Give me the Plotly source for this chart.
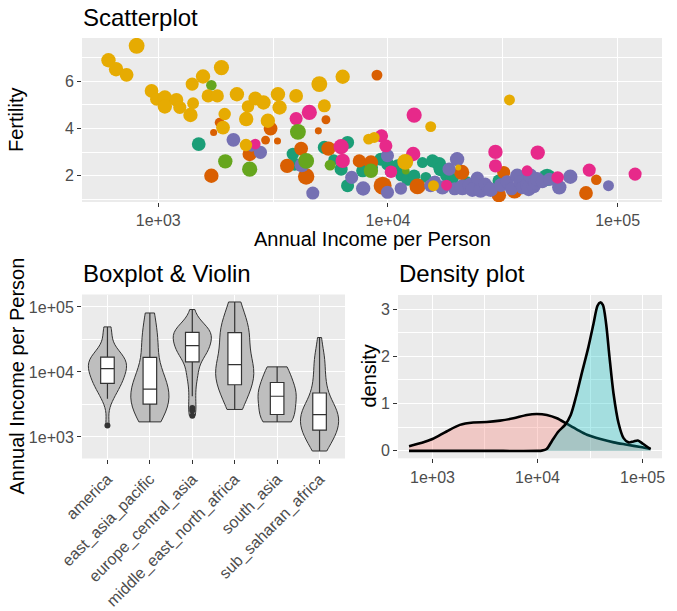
import numpy as np
import plotly.graph_objects as go

FONT = "Liberation Sans"
W, H = 677, 611

regions = ["america", "east_asia_pacific", "europe_central_asia",
           "middle_east_north_africa", "south_asia", "sub_saharan_africa"]
region_colors = ["#1B9E77", "#D95F02", "#7570B3", "#E7298A", "#66A61E", "#E6AB02"]

# ---- data (income per person, fertility, population in millions)
america_income = [1500, 3855, 3920, 5284, 6670, 5808, 6253, 6670, 7760, 8500, 9310, 9980, 9980,
                  11020, 11380, 12200, 13000, 14130, 14620, 15620, 16680, 16980, 17820, 19000,
                  22000, 30350, 43400, 49300]
america_fertility = [3.34, 2.92, 2.49, 3.20, 3.41, 2.68, 2.28, 1.58, 2.21, 2.35, 2.70, 2.14, 2.49,
                     2.42, 2.00, 1.85, 2.00, 2.56, 1.93, 2.63, 2.49, 2.28, 2.00, 1.85,
                     1.70, 1.79, 1.55, 1.93]
america_pop = [5, 1.5, 2.6, 2.6, 2.6, 0.5, 2.6, 2.6, 2.6, 1.5, 2.6, 0.1, 2.6,
               2.6, 0.5, 2.6, 1.5, 0.5, 0.5, 2.6, 9, 9, 0.5, 2.6,
               2.6, 1.5, 0.1, 320]

eap_income = [1849, 1742, 1703, 3083, 2932, 3304, 2500, 5370, 4977, 8955, 4188, 3641, 4404,
              5508, 7500, 8430, 9480, 13440, 20940, 31900, 30400, 35560, 80700, 72800]
eap_fertility = [4.25, 3.83, 2.00, 4.00, 3.51, 3.47, 2.92, 4.37, 3.90, 6.26, 3.15, 2.42, 1.97,
                 3.15, 2.63, 2.56, 1.58, 1.55, 2.14, 2.14, 1.18, 1.37, 1.83, 1.27]
eap_pop = [0.25, 0.11, 9, 5, 0.18, 0.11, 9, 0.18, 0.11, 0.5, 5, 9, 100,
           9, 2.6, 9, 870, 50, 22, 2.6, 9, 50, 0.4, 5]

eca_income = [2124, 2550, 2786, 4217, 4707, 6950, 7800, 9950, 9950, 11380, 15350, 16000, 17260,
              18450, 19500, 20000, 21090, 22910, 23300, 24500, 25300, 26500, 27490, 28000,
              31000, 33000, 34500, 36550, 37770, 38500, 40400, 41000, 41720, 43100, 43850,
              44580, 47000, 50500, 55700, 62200, 91200]
eca_fertility = [3.52, 3.25, 2.99, 2.45, 1.27, 1.93, 1.46, 2.85, 1.30, 1.46, 1.58, 1.75, 1.51,
                 2.28, 1.45, 2.70, 1.51, 1.58, 1.41, 1.90, 1.37, 1.65, 1.44, 1.41,
                 1.60, 1.75, 1.45, 2.00, 1.72, 1.50, 1.62, 1.44, 2.00, 1.55, 1.72,
                 1.86, 1.75, 1.85, 1.51, 1.96, 1.58]
eca_pop = [5, 0.5, 2.6, 9, 2.6, 2.6, 9, 2.6, 2.6, 1.5, 2.6, 1.5, 9,
           2.6, 2.6, 9, 50, 50, 9, 2.6, 9, 2.6, 9, 9,
           5, 2.6, 2.6, 9, 9, 2.6, 9, 9, 9, 5, 9,
           9, 2.6, 2.6, 9, 9, 0.5]

mena_income = [3983, 4546, 2645, 6253, 6351, 9376, 9790, 13000, 12880, 10310, 29370, 29370,
               44870, 40360, 54800, 75200, 119100, 18000]
mena_fertility = [4.42, 4.68, 3.34, 3.23, 2.63, 3.69, 3.27, 4.57, 2.92, 2.17, 3.01, 2.42,
                  2.98, 2.21, 1.93, 2.24, 2.07, 1.60]
mena_pop = [2.6, 22, 0.4, 22, 9, 2.6, 2.6, 22, 9, 1.5, 9, 2.6,
            9, 0.5, 1.5, 2.6, 2.6, 0.5]

sa_income = [1703, 1958, 2500, 4055, 4404, 5600, 8430, 11960]
sa_fertility = [5.83, 2.61, 2.28, 3.86, 2.63, 2.45, 2.21, 2.21]
sa_pop = [0.4, 9, 22, 50, 50, 0.5, 9, 0.12]

ssa_income = [805, 607, 655, 728, 1884, 1566, 1405, 935, 984, 1068, 1068, 1200, 1241, 1418,
              1381, 1649, 1808, 1946, 1914, 2200, 2459, 2645, 2872, 2415, 3319, 3374, 3000,
              3983, 5025, 5284, 6351, 2409, 8240, 8710, 15350, 33800, 11890, 20240, 15780]
ssa_fertility = [7.50, 6.89, 6.51, 6.27, 6.58, 6.20, 5.88, 5.59, 5.24, 5.31, 4.93, 5.21, 4.89, 5.07,
                 4.57, 5.38, 5.38, 4.61, 4.04, 5.45, 4.93, 5.27, 5.10, 4.40, 5.45, 4.89, 4.33,
                 5.38, 5.88, 4.96, 6.19, 3.30, 3.55, 3.62, 4.08, 5.21, 2.59, 2.35, 1.58]
ssa_pop = [50, 9, 9, 5, 22, 9, 2.6, 5, 2.6, 9, 9, 5, 2.6, 0.9,
           9, 2.6, 2.6, 1.5, 5, 9, 1.5, 5, 9, 9, 9, 9, 9,
           5, 50, 2.6, 9, 1.5, 0.5, 0.5, 0.5, 0.5, 50, 0.1, 0.5]

incomes = [america_income, eap_income, eca_income, mena_income, sa_income, ssa_income]
fertility = [america_fertility, eap_fertility, eca_fertility, mena_fertility, sa_fertility, ssa_fertility]
population = [america_pop, eap_pop, eca_pop, mena_pop, sa_pop, ssa_pop]

# density curves (log10 income, density)
red_log_income = [2.777, 2.9, 3.0, 3.134, 3.261, 3.389, 3.516, 3.643, 3.771, 3.898, 3.994, 4.089,
                  4.185, 4.28, 4.376, 4.471, 4.599, 4.726, 4.853, 4.981, 5.076]
red_density = [0.10, 0.17, 0.25, 0.41, 0.55, 0.60, 0.61, 0.64, 0.69, 0.76, 0.78, 0.76,
               0.69, 0.57, 0.45, 0.34, 0.25, 0.18, 0.13, 0.08, 0.04]
cyan_log_income = [2.777, 3.5, 4.0, 4.04, 4.087, 4.135, 4.199, 4.262, 4.316, 4.367, 4.421, 4.485,
                   4.533, 4.571, 4.596, 4.622, 4.653, 4.685, 4.723, 4.771, 4.819, 4.866, 4.914,
                   4.955, 5.003, 5.076]
cyan_density = [0, 0, 0, 0.005, 0.04, 0.20, 0.41, 0.55, 0.76, 1.15, 1.64, 2.20,
                2.69, 3.07, 3.14, 3.09, 2.69, 1.99, 1.22, 0.59, 0.27, 0.18, 0.20,
                0.22, 0.15, 0.04]

# ---- size scale (log10 population, area scale)
def size_scale(pop):
    lo, hi = np.log10(0.1), np.log10(1400)
    t = np.clip((np.log10(np.asarray(pop, float)) - lo) / (hi - lo), 0, 1)
    return 5.8 + 12.5 * np.sqrt(t)

def nrd0(x):
    x = np.asarray(x, float)
    sd = np.std(x, ddof=1)
    iqr = np.subtract(*np.percentile(x, [75, 25]))
    lo = min(sd, iqr / 1.34) if iqr > 0 else sd
    return 0.9 * lo * len(x) ** (-0.2)

def px(x):
    return x / W

def py(y):
    return 1 - y / H

fig = go.Figure()

# ---- scatter
for reg, col, inc, fer, pop in zip(regions, region_colors, incomes, fertility, population):
    fig.add_trace(go.Scatter(
        x=inc, y=fer, mode="markers", name=reg, xaxis="x", yaxis="y",
        marker=dict(color=col, size=size_scale(pop), line=dict(width=0), opacity=1),
        showlegend=False))

# ---- violins
for reg, inc in zip(regions, incomes):
    lv = np.log10(inc)
    fig.add_trace(go.Violin(
        x=[reg] * len(lv), y=lv, xaxis="x2", yaxis="y2", name=reg,
        width=0.9, scalemode="width", spanmode="hard", bandwidth=nrd0(lv),
        points=False, fillcolor="#BEBEBE", line=dict(color="#333333", width=1),
        box=dict(visible=False), meanline=dict(visible=False), showlegend=False))

# ---- boxes
all_reg, all_log = [], []
for reg, inc in zip(regions, incomes):
    all_reg += [reg] * len(inc)
    all_log += list(np.log10(inc))
fig.add_trace(go.Box(
    x=all_reg, y=all_log, xaxis="x2", yaxis="y2", width=0.32,
    fillcolor="white", line=dict(color="#333333", width=1.2), whiskerwidth=0,
    boxpoints="outliers", quartilemethod="linear",
    marker=dict(color="#333333", size=6, line=dict(width=0)), showlegend=False))

# ---- densities
fig.add_trace(go.Scatter(
    x=10 ** np.array(red_log_income), y=red_density, xaxis="x3", yaxis="y3",
    mode="lines", fill="tozeroy", fillcolor="rgba(248,118,109,0.3)",
    line=dict(color="black", width=2.6, shape="spline", smoothing=0.8), showlegend=False))
fig.add_trace(go.Scatter(
    x=10 ** np.array(cyan_log_income), y=cyan_density, xaxis="x3", yaxis="y3",
    mode="lines", fill="tozeroy", fillcolor="rgba(0,191,196,0.3)",
    line=dict(color="black", width=2.6, shape="spline", smoothing=0.8), showlegend=False))

tick_font = dict(family=FONT, size=16, color="#4D4D4D")
base = dict(showgrid=True, gridcolor="white", gridwidth=1.4, zeroline=False, showline=False,
            ticks="outside", ticklen=4, tickwidth=1.1, tickcolor="#333333", tickfont=tick_font,
            automargin=False)

log_ticks = [1000, 10000, 100000]
log_text = ["1e+03", "1e+04", "1e+05"]

fig.update_layout(
    width=W, height=H, margin=dict(l=0, r=0, t=0, b=0, pad=0, autoexpand=False),
    paper_bgcolor="white", plot_bgcolor="#EBEBEB",
    violinmode="overlay", boxmode="overlay", showlegend=False,
    xaxis=dict(base, domain=[px(82), px(662)], type="log", range=[2.668, 5.193], anchor="y",
               tickvals=log_ticks, ticktext=log_text,
               minor=dict(tickvals=[10 ** 3.5, 10 ** 4.5], showgrid=True, gridcolor="white",
                          gridwidth=0.7, ticks="")),
    yaxis=dict(base, domain=[py(202), py(38)], range=[0.89, 7.83], anchor="x",
               tickvals=[2, 4, 6],
               minor=dict(tickvals=[1, 3, 5, 7], showgrid=True, gridcolor="white",
                          gridwidth=0.7, ticks="")),
    xaxis2=dict(base, domain=[px(82), px(345)], type="category", range=[-0.6, 5.6], anchor="y2",
                categoryorder="array", categoryarray=regions, tickangle=-45),
    yaxis2=dict(base, domain=[py(458.5), py(294.5)], range=[2.668, 5.191], anchor="x2",
                tickvals=[3, 4, 5], ticktext=log_text,
                minor=dict(tickvals=[3.5, 4.5], showgrid=True, gridcolor="white",
                           gridwidth=0.7, ticks="")),
    xaxis3=dict(base, domain=[px(398), px(662)], type="log", range=[2.672, 5.185], anchor="y3",
                tickvals=log_ticks, ticktext=log_text,
                minor=dict(tickvals=[10 ** 3.5, 10 ** 4.5], showgrid=True, gridcolor="white",
                           gridwidth=0.7, ticks="")),
    yaxis3=dict(base, domain=[py(458.3), py(295)], range=[-0.157, 3.297], anchor="x3",
                tickvals=[0, 1, 2, 3],
                minor=dict(tickvals=[0.5, 1.5, 2.5], showgrid=True, gridcolor="white",
                           gridwidth=0.7, ticks="")),
)

def ann(text, x, y, size, xanchor="center", angle=0):
    fig.add_annotation(text=text, x=px(x), y=py(y), xref="paper", yref="paper",
                       xanchor=xanchor, yanchor="middle", textangle=angle, showarrow=False,
                       font=dict(family=FONT, size=size, color="black"))

ann("Scatterplot", 81, 17.5, 24, "left")
ann("Boxplot & Violin", 81, 273.5, 24, "left")
ann("Density plot", 397, 273.5, 24, "left")
ann("Annual Income per Person", 372, 238.5, 20)
ann("Fertility", 16, 120, 20, angle=-90)
ann("Annual Income per Person", 16, 376.5, 20, angle=-90)
ann("density", 368, 376.5, 20, angle=-90)

fig.write_html("out.html")
